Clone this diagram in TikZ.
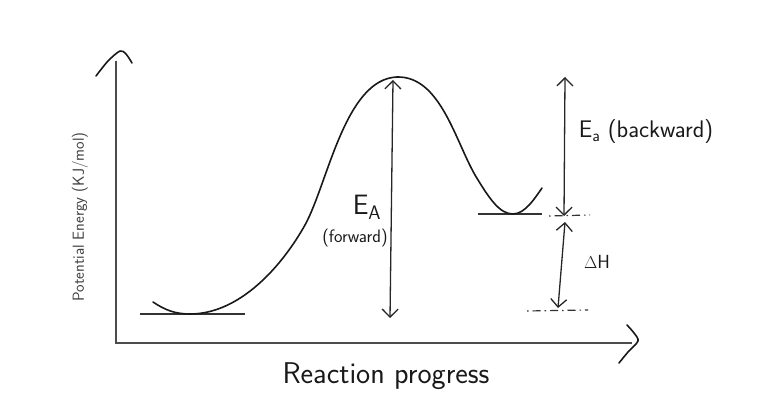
\documentclass[tikz,border=0pt]{standalone}
\usepackage{fontspec}
\usetikzlibrary{arrows.meta}
\newcommand{\fsz}[1]{\fontsize{#1}{#1}\selectfont}
\begin{document}
\begin{tikzpicture}[x=1pt,y=-1pt,
  ink/.style={line width=1.6pt, line cap=round, line join=round, black!90},
  axis/.style={line width=2.2pt, black!70},
  level/.style={line width=1.6pt, black!80},
  dbl/.style={line width=1.3pt, black!85, line cap=round,
    {Straight Barb[length=8pt,width=16pt,line width=1.3pt]}-{Straight Barb[length=8pt,width=16pt,line width=1.3pt]}},
  lbl/.style={font=\sffamily, inner sep=0pt, black!90},
  dashlvl/.style={line width=1.2pt, black!80, dash pattern=on 1.5pt off 4pt on 8pt off 4pt}
]
\useasboundingbox (0,0) rectangle (767,419);

% axes
\coordinate (ytop) at (116,61);
\coordinate (origin) at (116,343);
\coordinate (xend) at (632,343);
\draw[axis] (ytop) -- (origin) -- (xend);
\draw[ink] plot[smooth] coordinates {(96,76) (108,61) (120,51) (126,54) (132,63)};
\draw[ink] plot[smooth] coordinates {(627,325) (634,333) (638,341) (628,352) (619,363)};

% energy levels
\coordinate (rL) at (140,314); \coordinate (rR) at (245,314);
\coordinate (pL) at (478,214); \coordinate (pR) at (542,214);
\draw[level] (rL) -- (rR);
\draw[level] (pL) -- (pR);

% reaction curve
\coordinate (c0) at (153,302);
\coordinate (c1) at (190,314);
\coordinate (c2) at (305,225);
\coordinate (peak) at (397,77);
\coordinate (c4) at (475,175);
\coordinate (c5) at (513,214);
\coordinate (c6) at (542,188);
\draw[ink] (c0) .. controls (165,310) and (175,314) .. (c1)
  .. controls (240,314) and (282,266) .. (c2)
  .. controls (328,183) and (345,79) .. (peak)
  .. controls (440,76) and (455,140) .. (c4)
  .. controls (490,200) and (500,214) .. (c5)
  .. controls (525,214) and (535,198) .. (c6);

% Ea forward
\coordinate (efT) at (393,80); \coordinate (efB) at (390,318);
\draw[dbl] (efT) -- (efB);
% Ea backward
\coordinate (ebT) at (565,77); \coordinate (ebB) at (564,216);
\draw[dbl] (ebT) -- (ebB);
% Delta H
\coordinate (dhT) at (565,222); \coordinate (dhB) at (558,308);
\draw[dbl] (dhT) -- (dhB);
% dashed level marks
\coordinate (d1L) at (549,216); \coordinate (d1R) at (590,215);
\coordinate (d2L) at (527,311); \coordinate (d2R) at (588,310);
\draw[dashlvl] (d1L) -- (d1R);
\draw[dashlvl] (d2L) -- (d2R);

% labels
\node[lbl, font=\sffamily\fsz{30}] (xl) at (386,376) {Reaction progress};
\node[lbl, font=\sffamily\fsz{16}, rotate=90, black!75] (yl) at (80,217) {Potential Energy (KJ/mol)};
\node[lbl, font=\sffamily\fsz{24}] (eab) at (646,132) {E\textsubscript{a} (backward)};
\node[lbl, font=\sffamily\fsz{19}] (dh) at (597,262) {$\Delta$H};
\node[lbl, font=\sffamily\fsz{28}] (eaf) at (367,207) {E\textsubscript{A}};
\node[lbl, font=\sffamily\fsz{18}] (fw) at (355,238) {(forward)};
\end{tikzpicture}
\end{document}
